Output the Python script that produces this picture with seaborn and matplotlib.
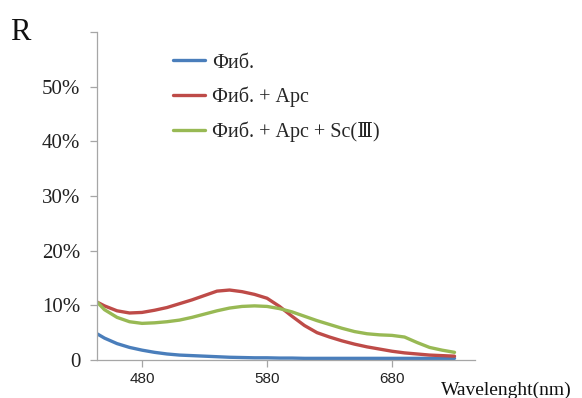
import numpy as np
import pandas as pd
import matplotlib
matplotlib.use("Agg")
import matplotlib.pyplot as plt
import seaborn as sns
from matplotlib.ticker import FixedLocator, FuncFormatter

# ── data ──
wavelength = [444, 450, 460, 470, 480, 490, 500, 510, 520, 530, 540, 550, 560, 570, 580,
              590, 600, 610, 620, 630, 640, 650, 660, 670, 680, 690, 700, 710, 720, 730]

fib = [4.8, 4.0, 3.0, 2.3, 1.8, 1.4, 1.1, 0.9, 0.8, 0.7, 0.6, 0.5, 0.45, 0.4, 0.4,
       0.35, 0.35, 0.3, 0.3, 0.3, 0.3, 0.3, 0.3, 0.3, 0.3, 0.3, 0.3, 0.3, 0.3, 0.3]

fib_ars = [10.6, 9.9, 9.0, 8.6, 8.7, 9.1, 9.6, 10.3, 11.0, 11.8, 12.6, 12.8, 12.5, 12.0, 11.3,
           9.8, 8.0, 6.3, 5.0, 4.2, 3.5, 2.9, 2.4, 2.0, 1.6, 1.3, 1.1, 0.9, 0.8, 0.7]

fib_ars_sc = [10.6, 9.2, 7.8, 7.0, 6.7, 6.8, 7.0, 7.3, 7.8, 8.4, 9.0, 9.5, 9.8, 9.9, 9.8,
              9.4, 8.8, 8.0, 7.2, 6.5, 5.8, 5.2, 4.8, 4.6, 4.5, 4.2, 3.2, 2.3, 1.8, 1.4]

series_names = ["Фиб.", "Фиб. + Арс", "Фиб. + Арс + Sc(Ⅲ)"]
colors = ["#4a7ebb", "#be4b48", "#98b954"]

df = pd.DataFrame({
    "wl": wavelength * 3,
    "R": fib + fib_ars + fib_ars_sc,
    "series": [series_names[0]] * len(wavelength)
              + [series_names[1]] * len(wavelength)
              + [series_names[2]] * len(wavelength),
})

sns.set_style("white")
SERIF = ["Liberation Serif", "DejaVu Serif"]

fig = plt.figure(figsize=(5.82, 3.98), dpi=100)
ax = fig.add_axes([0.1667, 0.0955, 0.6495, 0.824])

sns.lineplot(data=df, x="wl", y="R", hue="series", palette=colors,
             hue_order=series_names, linewidth=2.4, ax=ax, legend=False)

ax.set_xlim(444, 746.4)
ax.set_ylim(0, 60)

for side in ["top", "right"]:
    ax.spines[side].set_visible(False)
for side in ["left", "bottom"]:
    ax.spines[side].set_color("#a6a6a6")
    ax.spines[side].set_linewidth(0.9)

ax.xaxis.set_major_locator(FixedLocator([480, 580, 680]))
ax.yaxis.set_major_locator(FixedLocator([0, 10, 20, 30, 40, 50, 60]))
ax.yaxis.set_major_formatter(FuncFormatter(
    lambda v, p: "0" if v == 0 else ("" if v == 60 else f"{int(v)}%")))
ax.tick_params(axis="both", which="major", direction="out", length=5,
               color="#a6a6a6", width=0.9, left=True, bottom=True)
ax.tick_params(axis="x", labelsize=11, pad=4, labelcolor="#222222")
ax.tick_params(axis="y", labelsize=15, pad=7, labelcolor="#222222")
for lab in ax.get_yticklabels():
    lab.set_family(SERIF)
for lab in ax.get_xticklabels():
    lab.set_family(["Liberation Sans", "DejaVu Sans"])

ax.set_xlabel("")
ax.set_ylabel("")

# legend (no frame)
handles = [plt.Line2D([], [], color=c, lw=2.4) for c in colors]
ax.legend(handles, series_names, loc="upper left", bbox_to_anchor=(0.153, 0.99),
          frameon=False, prop={"family": SERIF, "size": 14.5},
          handlelength=1.6, handletextpad=0.35, labelspacing=0.7)

fig.text(0.017, 0.9, "R", family=SERIF, fontsize=22, color="#111111")
fig.text(0.757, 0.008, "Wavelenght(nm)", family=SERIF, fontsize=14, color="#111111")

fig.savefig("out.png", dpi=100)
